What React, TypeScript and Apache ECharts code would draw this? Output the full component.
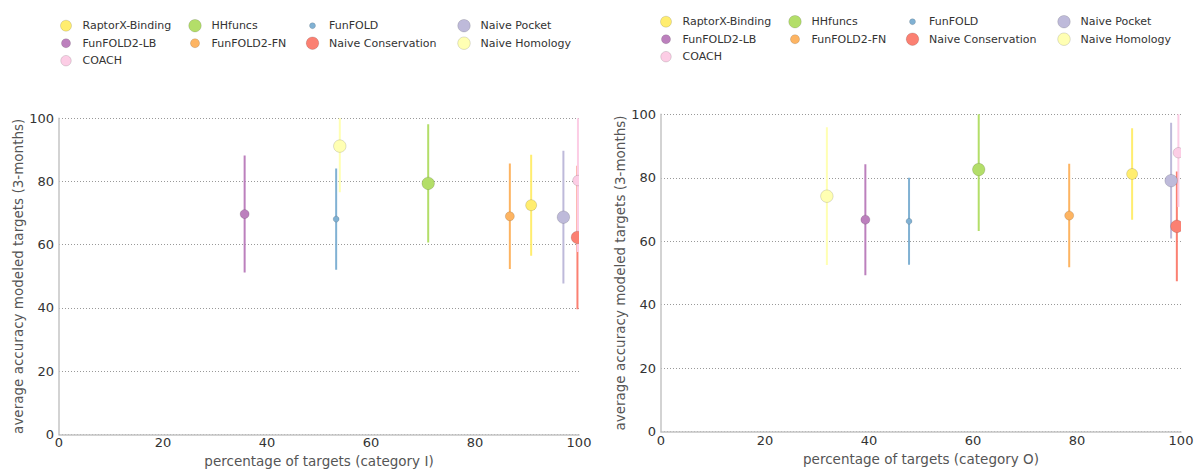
import React, { useEffect, useRef } from "react";
import * as echarts from "echarts";

// Methods in plotting order (legend is filled column by column)
const methods = [
  "RaptorX-Binding",
  "FunFOLD2-LB",
  "COACH",
  "HHfuncs",
  "FunFOLD2-FN",
  "FunFOLD",
  "Naive Conservation",
  "Naive Pocket",
  "Naive Homology",
];
const methodColors = ["#ffed6f", "#bc80bd", "#fccde5", "#b3de69", "#fdb462", "#80b1d3", "#fb8072", "#bebada", "#ffffb3"];
const markerSizes = [11, 9, 10.5, 12.5, 9, 6, 12.5, 12.5, 12.5];

// Category I panel
const pctI = [90.8, 35.7, 99.8, 71.0, 86.7, 53.3, 99.7, 97.0, 54.0];
const accI = [72.5, 69.7, 80.3, 79.4, 69.0, 68.1, 62.3, 68.7, 91.2];
const errI = [16.0, 18.5, 22.6, 18.7, 16.7, 16.0, 22.7, 21.0, 14.6];

// Category O panel
const pctO = [90.6, 39.3, 99.5, 61.1, 78.5, 47.7, 99.2, 98.1, 31.9];
const accO = [81.2, 66.8, 87.9, 82.6, 68.1, 66.3, 64.7, 79.1, 74.2];
const errO = [14.4, 17.5, 17.1, 19.4, 16.3, 13.7, 17.3, 18.2, 21.7];

const xTitles = ["percentage of targets (category I)", "percentage of targets (category O)"];
const yTitle = "average accuracy modeled targets (3-months)";

const FONT = "DejaVu Sans";

// layout
const panels = [
  { grid: { left: 59, top: 118.3, width: 520, height: 316 }, offset: 0, rows: [25.7, 43.2, 60.7] },
  { grid: { left: 661, top: 114.3, width: 520, height: 317.4 }, offset: 600, rows: [21.7, 39.2, 56.7] },
];
const legendTextX = [82.5, 211.5, 329, 480.5];
const legendSlots = [
  [0, 0], [0, 1], [0, 2], [1, 0], [1, 1], [2, 0], [2, 1], [3, 0], [3, 1],
];

export default function App() {
  const ref = useRef<HTMLDivElement>(null);
  useEffect(() => {
    const chart = echarts.init(ref.current!, undefined, { renderer: "svg" });
    const data = [
      { pct: pctI, acc: accI, err: errI },
      { pct: pctO, acc: accO, err: errO },
    ];
    const grids: any[] = [];
    const xAxes: any[] = [];
    const yAxes: any[] = [];
    const series: any[] = [];
    const graphics: any[] = [];
    const axisLine = { show: true, lineStyle: { color: "#c4c4c4", width: 1.5 } };
    panels.forEach((p, pi) => {
      grids.push({ ...p.grid, containLabel: false, outerBoundsMode: "none" });
      xAxes.push({
        type: "value",
        gridIndex: pi,
        min: 0,
        max: 100,
        interval: 20,
        axisLine,
        axisTick: { show: false },
        splitLine: { show: false },
        axisLabel: { color: "#333", fontSize: 13, fontFamily: FONT, margin: 2 },
        name: xTitles[pi],
        nameLocation: "middle",
        nameGap: 16,
        nameTextStyle: { color: "#555", fontSize: 13.5, fontFamily: FONT },
      });
      yAxes.push({
        type: "value",
        gridIndex: pi,
        min: 0,
        max: 100,
        interval: 20,
        axisLine,
        axisTick: { show: false },
        splitLine: { show: true, lineStyle: { color: "#999999", width: 1, type: [1, 2] } },
        axisLabel: { color: "#333", fontSize: 13, fontFamily: FONT, margin: 5 },
        name: yTitle,
        nameLocation: "middle",
        nameRotate: 90,
        nameGap: 34,
        nameTextStyle: { color: "#555", fontSize: 13.5, fontFamily: FONT },
      });
      const d = data[pi];
      for (let k = methods.length - 1; k >= 0; k--) {
        const color = methodColors[k];
        series.push({
          type: "custom",
          name: methods[k],
          xAxisIndex: pi,
          yAxisIndex: pi,
          clip: true,
          z: 2,
          itemStyle: { color },
          encode: { x: 0, y: 1 },
          data: [[d.pct[k], d.acc[k], d.err[k]]],
          renderItem: (params: any, api: any) => {
            const x = api.value(0);
            const y = api.value(1);
            const e = api.value(2);
            const a = api.coord([x, y - e]);
            const b = api.coord([x, y + e]);
            return {
              type: "line",
              shape: { x1: a[0], y1: a[1], x2: b[0], y2: b[1] },
              style: { stroke: color, lineWidth: 2 },
            };
          },
        });
      }
      methods.forEach((m, k) => {
        const color = methodColors[k];
        const r = markerSizes[k] / 2;
        series.push({
          type: "custom",
          name: m,
          xAxisIndex: pi,
          yAxisIndex: pi,
          clip: true,
          z: 3,
          itemStyle: { color },
          encode: { x: 0, y: 1 },
          data: [[d.pct[k], d.acc[k]]],
          renderItem: (params: any, api: any) => {
            const c = api.coord([api.value(0), api.value(1)]);
            return {
              type: "circle",
              shape: { cx: c[0], cy: c[1], r },
              style: { fill: color, stroke: "rgba(0,0,0,0.13)", lineWidth: 1 },
            };
          },
        });
        // legend entry
        const [col, row] = legendSlots[k];
        const tx = legendTextX[col] + p.offset;
        const cy = p.rows[row];
        graphics.push({
          type: "circle",
          shape: { cx: tx - 16.5, cy, r },
          style: { fill: color, stroke: "rgba(0,0,0,0.13)", lineWidth: 1 },
        });
        graphics.push({
          type: "text",
          x: tx,
          y: cy,
          style: {
            text: m,
            fill: "#333",
            fontSize: 11,
            fontFamily: FONT,
            align: "left",
            verticalAlign: "middle",
          },
        });
      });
    });
    chart.setOption({
      animation: false,
      backgroundColor: "#ffffff",
      textStyle: { fontFamily: FONT },
      grid: grids,
      xAxis: xAxes,
      yAxis: yAxes,
      series,
      graphic: graphics,
    });
    return () => chart.dispose();
  }, []);
  return (
    <div
      ref={ref}
      style={{ position: "absolute", left: 0, top: 0, width: 1196, height: 469 }}
    />
  );
}
